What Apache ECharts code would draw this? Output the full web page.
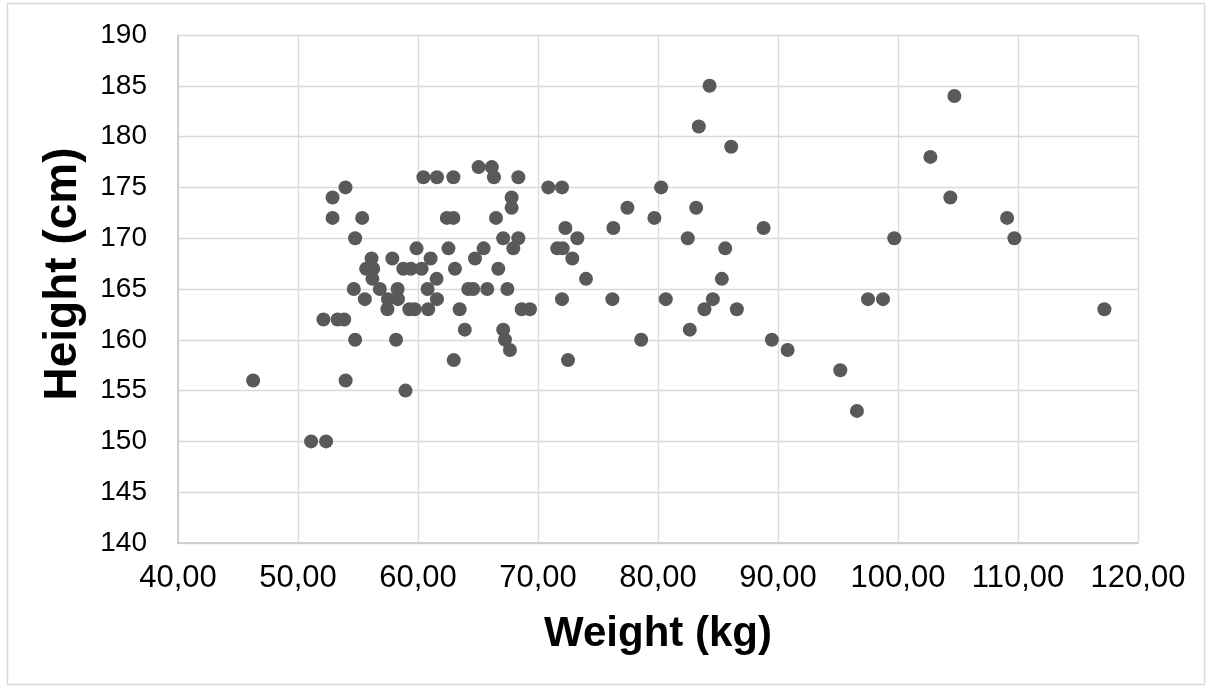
<!DOCTYPE html>
<html>
<head>
<meta charset="utf-8">
<script src="https://cdn.jsdelivr.net/npm/echarts@6/dist/echarts.min.js"></script>
<style>
html,body{margin:0;padding:0;background:#fff;}
#chart{width:1212px;height:690px;}
</style>
</head>
<body>
<div id="chart"></div>
<script>
const xAxisTitle = 'Weight (kg)';
const yAxisTitle = 'Height (cm)';
const xTicks = { min: 40, max: 120, interval: 10 };
const yTicks = { min: 140, max: 190, interval: 5 };

const weights = [
  84.3,
  104.7,
  83.4,
  86.1,
  102.7,
  65.05, 66.15,
  60.45, 61.58, 62.95, 66.33, 68.36,
  53.96, 70.86, 72.0, 80.26,
  52.88, 67.8, 104.36,
  67.8, 77.45, 83.18,
  52.88, 55.35, 62.4, 62.95, 66.5, 79.7, 109.09,
  72.28, 76.28, 88.8,
  54.76, 67.1, 68.36, 73.28, 82.48, 99.69, 109.7,
  59.88, 62.54, 65.47, 67.94, 71.6, 72.06, 85.6,
  56.13, 57.86, 61.05, 64.75, 72.86,
  55.68, 56.27, 58.77, 59.4, 60.3, 63.08, 66.69,
  56.2, 61.55, 74.0, 85.32,
  54.65, 56.82, 58.3, 60.8, 64.19, 64.6, 65.77, 67.45,
  55.57, 57.5, 58.33, 61.58, 72.0, 76.2, 80.65, 84.57, 97.5, 98.75,
  57.45, 59.28, 59.72, 60.85, 63.47, 68.64, 69.33, 83.87, 86.57, 117.2,
  52.12, 53.3, 53.85,
  63.9, 67.1, 82.65,
  54.76, 58.17, 67.25, 78.6, 89.49,
  67.66, 90.8,
  62.98, 72.5,
  95.19,
  46.26, 53.97,
  58.96,
  96.58,
  51.09, 52.34
];
const heights = [
  185,
  184,
  181,
  179,
  178,
  177, 177,
  176, 176, 176, 176, 176,
  175, 175, 175, 175,
  174, 174, 174,
  173, 173, 173,
  172, 172, 172, 172, 172, 172, 172,
  171, 171, 171,
  170, 170, 170, 170, 170, 170, 170,
  169, 169, 169, 169, 169, 169, 169,
  168, 168, 168, 168, 168,
  167, 167, 167, 167, 167, 167, 167,
  166, 166, 166, 166,
  165, 165, 165, 165, 165, 165, 165, 165,
  164, 164, 164, 164, 164, 164, 164, 164, 164, 164,
  163, 163, 163, 163, 163, 163, 163, 163, 163, 163,
  162, 162, 162,
  161, 161, 161,
  160, 160, 160, 160, 160,
  159, 159,
  158, 158,
  157,
  156, 156,
  155,
  153,
  150, 150
];

const points = weights.map((w, i) => [w, heights[i]]);

const chart = echarts.init(document.getElementById('chart'), null, { renderer: 'canvas' });
const FONT = 'Liberation Sans';
chart.setOption({
  animation: false,
  backgroundColor: '#ffffff',
  grid: { left: 178, right: 74, top: 35, bottom: 147, containLabel: false },
  xAxis: {
    type: 'value',
    min: xTicks.min, max: xTicks.max, interval: xTicks.interval,
    name: xAxisTitle,
    nameLocation: 'middle',
    nameGap: 70,
    nameTextStyle: { fontFamily: FONT, fontWeight: 'bold', fontSize: 42, color: '#000' },
    axisLine: { show: true, lineStyle: { color: '#c6c6c6', width: 1.5 } },
    axisTick: { show: false },
    splitLine: { show: true, lineStyle: { color: '#d9d9d9', width: 1.3 } },
    axisLabel: {
      fontFamily: FONT, fontSize: 31, color: '#000', margin: 20,
      formatter: v => v.toFixed(2).replace('.', ',')
    }
  },
  yAxis: {
    type: 'value',
    min: yTicks.min, max: yTicks.max, interval: yTicks.interval,
    axisLine: { show: true, lineStyle: { color: '#c6c6c6', width: 1.5 } },
    axisTick: { show: false },
    splitLine: { show: true, lineStyle: { color: '#d9d9d9', width: 1.3 } },
    axisLabel: { fontFamily: FONT, fontSize: 28, color: '#000', margin: 31 }
  },
  graphic: [
    {
      type: 'rect', silent: true, z: -10,
      shape: { x: 7.5, y: 3.5, width: 1197, height: 681 },
      style: { fill: 'none', stroke: '#d9d9d9', lineWidth: 1.5 }
    },
    {
      type: 'text', x: 63, y: 274, rotation: Math.PI / 2,
      style: { text: yAxisTitle, font: 'bold 46px "Liberation Sans"', fill: '#000', align: 'center', verticalAlign: 'middle' }
    }
  ],
  series: [{
    type: 'scatter',
    data: points,
    symbol: 'circle',
    symbolSize: 14,
    itemStyle: { color: '#595959', opacity: 1 }
  }]
});
</script>
</body>
</html>
